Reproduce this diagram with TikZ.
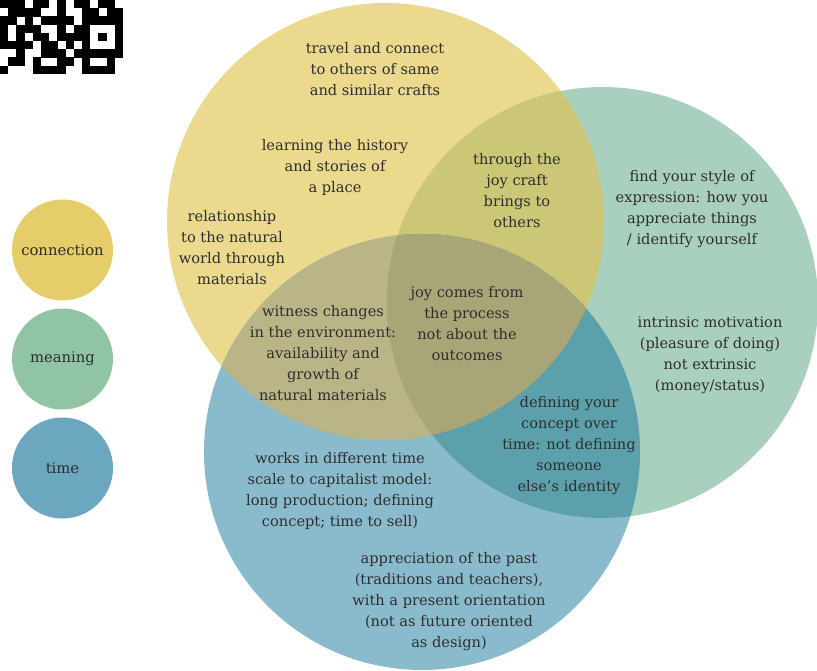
\documentclass[tikz,border=0pt]{standalone}
\usepackage{fontspec}
\setmainfont{DejaVu Serif}
\definecolor{yonly}{HTML}{EBD98D}
\definecolor{gonly}{HTML}{A9D0BE}
\definecolor{bonly}{HTML}{8ABBCD}
\definecolor{ygcol}{HTML}{CCC776}
\definecolor{ybcol}{HTML}{B9B586}
\definecolor{gbcol}{HTML}{5CA0AC}
\definecolor{ygbcol}{HTML}{A8A676}
\definecolor{legy}{HTML}{E5CD69}
\definecolor{legg}{HTML}{90C4A5}
\definecolor{legb}{HTML}{6BA7BE}
\definecolor{txt}{HTML}{2E2E2E}
\begin{document}
\begin{tikzpicture}[x=1pt,y=-1pt,
  lbl/.style={align=center,text=txt,inner sep=0pt,font=\fontsize{14.6}{21}\selectfont},
  leg/.style={circle,minimum size=101pt,inner sep=0pt,text=txt,font=\fontsize{14.8}{21}\selectfont},
  qr/.style={fill=black}]
\useasboundingbox (0,0) rectangle (817,671);
% big circles
\def\ycirc{(385.5,221.5) circle[radius=218.5pt]}
\def\gcirc{(602.5,302.5) circle[radius=215.5pt]}
\def\bcirc{(422,452) circle[radius=218pt]}
\fill[yonly] \ycirc;
\fill[gonly] \gcirc;
\fill[bonly] \bcirc;
\begin{scope}\clip \ycirc; \fill[ygcol] \gcirc; \fill[ybcol] \bcirc; \end{scope}
\begin{scope}\clip \gcirc; \fill[gbcol] \bcirc; \end{scope}
\begin{scope}\clip \ycirc; \clip \gcirc; \fill[ygbcol] \bcirc; \end{scope}
% QR fragment
\foreach \r/\cols in {0/{0,1,2,4,5,7,9,10,12,13},1/{1,2,3,4,7,10,11,13,14},2/{0,1,3,5,6,7,8,10,11,12,13,14},3/{0,2,3,4,7,9,10,14},4/{0,2,4,5,7,8,9,10,12,14},5/{0,1,2,3,5,6,8,10,14},6/{2,5,6,7,9,10,11,12,13,14},7/{1,2,4,7,8,10,13},8/{0,4,5,6,7,10,11,12,13}}{
  \foreach \c in \cols {
    \fill[qr] (\c*8.2,\r*8.2) rectangle ++(8.4,8.4);
  }
}
% legend
\node[leg,fill=legy] (lc) at (62.5,250) {connection};
\node[leg,fill=legg] (lm) at (62.5,359) {meaning};
\node[leg,fill=legb] (lt) at (62.5,468) {time};
% labels
\node[lbl] (t1) at (375,69) {travel and connect\\to others of same\\and similar crafts};
\node[lbl] (t2) at (335,167) {learning the history\\and stories of\\a place};
\node[lbl] (t3) at (232,247.5) {relationship\\to the natural\\world through\\materials};
\node[lbl] (t4) at (517,190.5) {through the\\joy craft\\brings to\\others};
\node[lbl] (t5) at (692,209.5) {find your style of\\expression: how you\\appreciate things\\/ identify yourself};
\node[lbl] (t6) at (323,353) {witness changes\\in the environment:\\availability and\\growth of\\natural materials};
\node[lbl] (t7) at (467,323.5) {joy comes from\\the process\\not about the\\outcomes};
\node[lbl] (t8) at (710,355) {intrinsic motivation\\(pleasure of doing)\\not extrinsic\\(money/status)};
\node[lbl] (t9) at (569,445.5) {defining your\\concept over\\time: not defining\\someone\\else’s identity};
\node[lbl] (t10) at (340,491) {works in different time\\scale to capitalist model:\\long production; defining\\concept; time to sell)};
\node[lbl] (t11) at (449,602) {appreciation of the past\\(traditions and teachers),\\with a present orientation\\(not as future oriented\\as design)};
\end{tikzpicture}
\end{document}
